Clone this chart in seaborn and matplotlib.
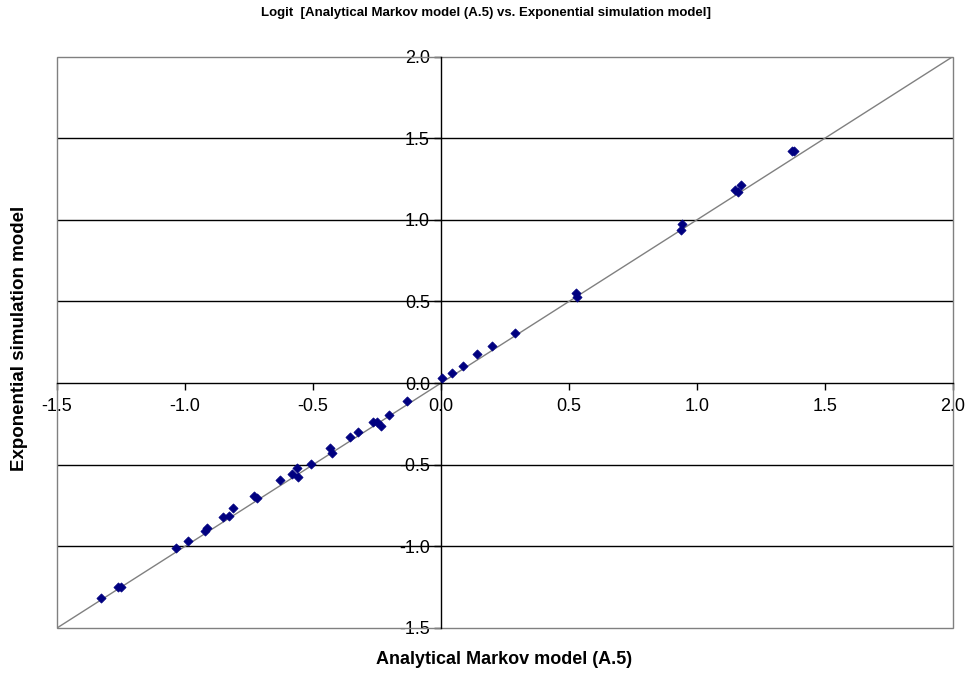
import numpy as np
import pandas as pd
import matplotlib
matplotlib.use("Agg")
import matplotlib.pyplot as plt
import seaborn as sns
from matplotlib.patches import Rectangle

sns.set_theme(style="white")
plt.rcParams["font.family"] = ["Liberation Sans", "DejaVu Sans"]
plt.rcParams["text.color"] = "black"

# Logit values: analytical Markov model (A.5) vs exponential simulation model
analytical = [-1.330, -1.261, -1.251, -1.036, -0.987, -0.922, -0.913, -0.850,
              -0.827, -0.814, -0.730, -0.720, -0.627, -0.583, -0.561, -0.560,
              -0.509, -0.435, -0.426, -0.355, -0.323, -0.264, -0.251, -0.236,
              -0.202, -0.133, 0.005, 0.043, 0.087, 0.139, 0.198, 0.288,
              0.527, 0.532, 0.941, 0.936, 1.148, 1.161, 1.172, 1.370, 1.379]
simulation = [-1.315, -1.251, -1.251, -1.012, -0.968, -0.906, -0.888, -0.821,
              -0.816, -0.765, -0.692, -0.704, -0.594, -0.558, -0.519, -0.574,
              -0.494, -0.400, -0.431, -0.331, -0.300, -0.239, -0.239, -0.263,
              -0.194, -0.110, 0.033, 0.059, 0.102, 0.176, 0.227, 0.304,
              0.549, 0.528, 0.974, 0.937, 1.182, 1.171, 1.212, 1.421, 1.421]

x_ticks = [-1.5, -1.0, -0.5, 0.0, 0.5, 1.0, 1.5, 2.0]
y_ticks = [-1.5, -1.0, -0.5, 0.0, 0.5, 1.0, 1.5, 2.0]
diag = [-1.5, 2.0]

df = pd.DataFrame({"analytical": analytical, "simulation": simulation})

fig = plt.figure(figsize=(9.71, 6.74), dpi=100)
ax = fig.add_axes([57 / 971, 1 - 628 / 674, (953 - 57) / 971, (628 - 56.5) / 674])

ax.set_xlim(-1.5, 2.0)
ax.set_ylim(-1.5, 2.0)

# horizontal gridlines
for yv in y_ticks:
    if yv not in (0.0, -1.5, 2.0):
        ax.axhline(yv, color="black", lw=1.0, zorder=1)

# plot-area border
ax.add_patch(Rectangle((0, 0), 1, 1, transform=ax.transAxes, fill=False,
                       edgecolor="#808080", lw=1.0, zorder=1, clip_on=False))

# identity line
sns.lineplot(x=diag, y=diag, ax=ax, color="#808080", lw=1.0, zorder=2)

sns.scatterplot(data=df, x="analytical", y="simulation", ax=ax, marker="D",
                s=22, color="#000080", edgecolor="#000080", linewidth=0.5,
                zorder=3)

# axes crossing at the origin
for side in ("top", "right"):
    ax.spines[side].set_visible(False)
ax.spines["left"].set_position(("data", 0))
ax.spines["bottom"].set_position(("data", 0))
for side in ("left", "bottom"):
    ax.spines[side].set_color("black")
    ax.spines[side].set_linewidth(1.0)
    ax.spines[side].set_zorder(2)

ax.set_xticks(x_ticks)
ax.set_yticks(y_ticks)
ax.set_xticklabels([f"{v:.1f}" for v in x_ticks])
ax.set_yticklabels([f"{v:.1f}" for v in y_ticks])
ax.tick_params(axis="both", direction="out", length=5, width=1, color="black",
               labelsize=13, labelcolor="black", pad=2)
ax.tick_params(axis="x", bottom=True, pad=6)
ax.tick_params(axis="y", left=True, pad=3)

ax.set_xlabel("")
ax.set_ylabel("")

fig.text(486 / 971, 1 - 13 / 674, "Logit  [Analytical Markov model (A.5) vs. Exponential simulation model]",
         ha="center", va="center", fontsize=9.5, fontweight="bold", color="black")
fig.text(504 / 971, 1 - 660 / 674, "Analytical Markov model (A.5)",
         ha="center", va="center", fontsize=13, fontweight="bold", color="black")
fig.text(20 / 971, 1 - 338 / 674, "Exponential simulation model",
         ha="center", va="center", rotation=90, fontsize=13.5, fontweight="bold",
         color="black")

fig.savefig("out.png", dpi=100, facecolor="white")
